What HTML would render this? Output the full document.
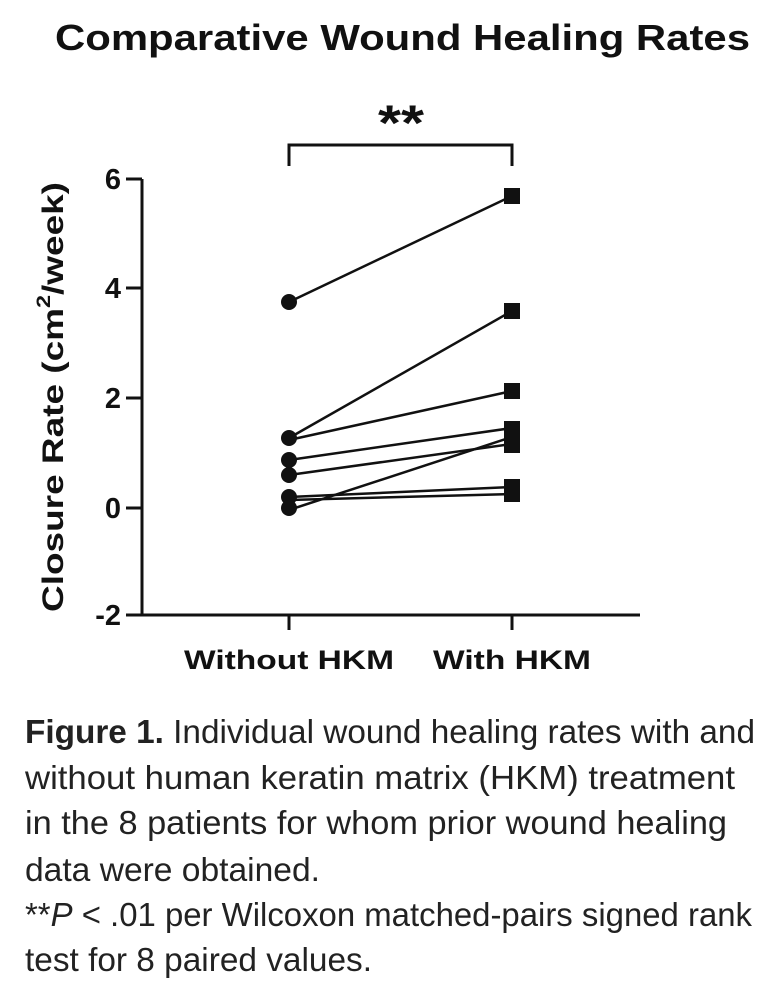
<!DOCTYPE html>
<html><head><meta charset="utf-8"><style>
html,body{margin:0;padding:0;background:#fff;}
svg{display:block;}
</style></head><body>
<svg width="770" height="1002" viewBox="0 0 770 1002" xmlns="http://www.w3.org/2000/svg">
<g font-family="Liberation Sans, Arial, sans-serif" fill="#111">
<text x="55" y="50" font-size="36" font-weight="bold" textLength="695" lengthAdjust="spacingAndGlyphs">Comparative Wound Healing Rates</text>
<text x="401" y="140" font-size="50" font-weight="bold" text-anchor="middle" textLength="46" lengthAdjust="spacingAndGlyphs">**</text>
</g>
<g stroke="#111" stroke-width="3" fill="none">
<polyline points="289,166 289,145 512,145 512,166"/>
<line x1="142" y1="179" x2="142" y2="616"/>
<line x1="140.5" y1="615" x2="640" y2="615"/>
<line x1="126" y1="179" x2="142" y2="179"/>
<line x1="126" y1="288" x2="142" y2="288"/>
<line x1="126" y1="398" x2="142" y2="398"/>
<line x1="126" y1="508" x2="142" y2="508"/>
<line x1="126" y1="615" x2="142" y2="615"/>
<line x1="289" y1="615" x2="289" y2="630"/>
<line x1="512" y1="615" x2="512" y2="630"/>
</g>
<g font-family="Liberation Sans, Arial, sans-serif" font-weight="bold" font-size="29" fill="#111" text-anchor="end">
<text x="121" y="189">6</text>
<text x="121" y="298">4</text>
<text x="121" y="408">2</text>
<text x="121" y="518">0</text>
<text x="121" y="625">-2</text>
</g>
<g font-family="Liberation Sans, Arial, sans-serif" font-weight="bold" font-size="27" fill="#111" text-anchor="middle">
<text x="289" y="669" textLength="210" lengthAdjust="spacingAndGlyphs">Without HKM</text>
<text x="512" y="669" textLength="158" lengthAdjust="spacingAndGlyphs">With HKM</text>
<text transform="translate(63,397) rotate(-90)" font-size="30" textLength="430" lengthAdjust="spacingAndGlyphs">Closure Rate  (cm<tspan font-size="19" dy="-13">2</tspan><tspan dy="13">/week)</tspan></text>
</g>
<g stroke="#111" stroke-width="2.5">
<line x1="289" y1="302" x2="512" y2="196"/>
<line x1="289" y1="438" x2="512" y2="311"/>
<line x1="289" y1="440" x2="512" y2="391"/>
<line x1="289" y1="460" x2="512" y2="428"/>
<line x1="289" y1="475" x2="512" y2="444"/>
<line x1="289" y1="497" x2="512" y2="487"/>
<line x1="289" y1="500" x2="512" y2="494"/>
<line x1="289" y1="510" x2="512" y2="437"/>
</g>
<g fill="#111">
<circle cx="289" cy="302" r="8"/>
<circle cx="289" cy="438" r="8"/>
<circle cx="289" cy="460" r="8"/>
<circle cx="289" cy="475" r="8"/>
<circle cx="289" cy="497" r="8"/>
<circle cx="289" cy="508" r="8"/>
<rect x="504" y="188" width="16" height="16"/>
<rect x="504" y="303" width="16" height="16"/>
<rect x="504" y="383" width="16" height="16"/>
<rect x="504" y="421" width="16" height="16"/>
<rect x="504" y="437" width="16" height="16"/>
<rect x="504" y="479" width="16" height="16"/>
<rect x="504" y="486" width="16" height="16"/>
</g>
<g font-family="Liberation Sans, Arial, sans-serif" font-size="33" fill="#222">
<text x="25" y="743" textLength="730" lengthAdjust="spacingAndGlyphs"><tspan font-weight="bold">Figure 1.</tspan> Individual wound healing rates with and</text>
<text x="25" y="789" textLength="710" lengthAdjust="spacingAndGlyphs">without human keratin matrix (HKM) treatment</text>
<text x="25" y="834" textLength="702" lengthAdjust="spacingAndGlyphs">in the 8 patients for whom prior wound healing</text>
<text x="25" y="881" textLength="295" lengthAdjust="spacingAndGlyphs">data were obtained.</text>
<text x="25" y="926" textLength="727" lengthAdjust="spacingAndGlyphs">**<tspan font-style="italic">P</tspan> &lt; .01 per Wilcoxon matched-pairs signed rank</text>
<text x="25" y="971" textLength="347" lengthAdjust="spacingAndGlyphs">test for 8 paired values.</text>
</g>
</svg>
</body></html>
